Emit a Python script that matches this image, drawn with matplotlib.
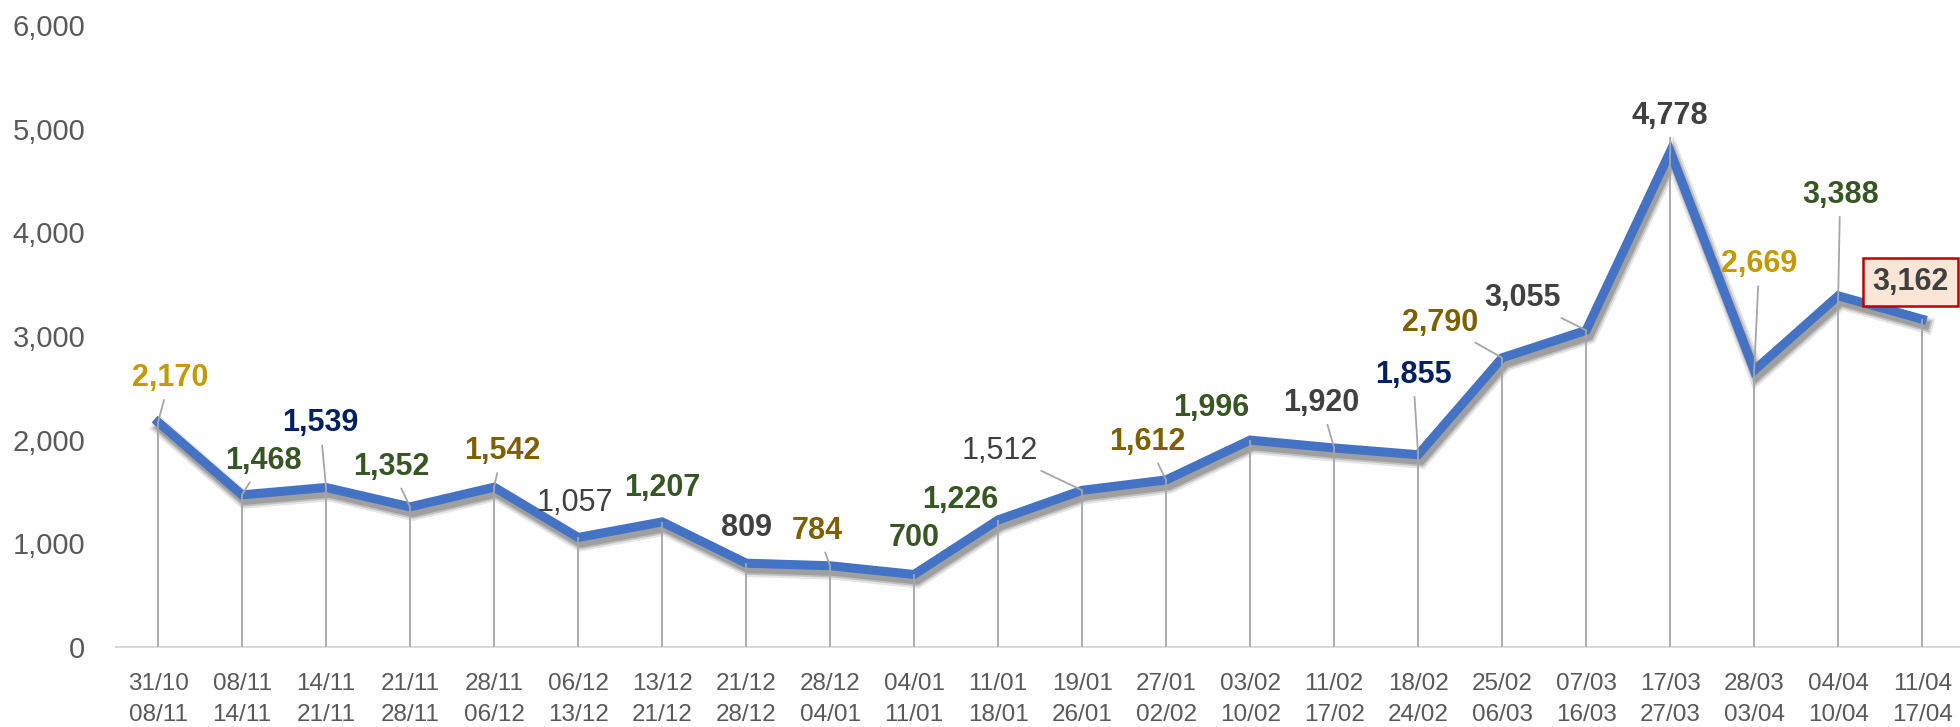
import matplotlib
matplotlib.use('Agg')
import matplotlib.pyplot as plt
import matplotlib.patheffects as pe
from matplotlib.ticker import FuncFormatter, FixedLocator

plt.rcParams['font.family'] = ['Liberation Sans', 'DejaVu Sans']

# weekly periods
week_start = ['31/10', '08/11', '14/11', '21/11', '28/11', '06/12', '13/12', '21/12',
              '28/12', '04/01', '11/01', '19/01', '27/01', '03/02', '11/02', '18/02',
              '25/02', '07/03', '17/03', '28/03', '04/04', '11/04']
week_end = ['08/11', '14/11', '21/11', '28/11', '06/12', '13/12', '21/12', '28/12',
            '04/01', '11/01', '18/01', '26/01', '02/02', '10/02', '17/02', '24/02',
            '06/03', '16/03', '27/03', '03/04', '10/04', '17/04']
values = [2170, 1468, 1539, 1352, 1542, 1057, 1207, 809, 784, 700, 1226,
          1512, 1612, 1996, 1920, 1855, 2790, 3055, 4778, 2669, 3388, 3162]

# label look: colour, bold, leader line, offset (pixels) of label centre from point
GOLD, OLIVE, GREEN, NAVY, GREY = '#C59A00', '#7F6000', '#375623', '#002060', '#404040'
label_colors = [GOLD, GREEN, NAVY, GREEN, OLIVE, GREY, GREEN, GREY, OLIVE, GREEN, GREEN,
                GREY, OLIVE, GREEN, GREY, NAVY, OLIVE, GREY, GREY, GOLD, GREEN, GREY]
label_bold = [True, True, True, True, True, False, True, True, True, True, True,
              False, True, True, True, True, True, True, True, True, True, True]
leader = [True, True, True, True, True, False, False, False, True, False, False,
          True, True, False, True, True, True, True, True, True, True, False]
offsets = [(12, 44), (21, 34), (-6, 64), (-19, 40), (8, 36), (-3, 34), (0, 34),
           (0, 35), (-13, 35), (0, 36), (-38, 20), (-82, 39), (-19, 38), (-39, 32),
           (-13, 45), (-5, 80), (-62, 35), (-64, 32), (0, 36), (5, 106), (2, 101), (-12, 37)]

x = list(range(len(values)))

fig = plt.figure(figsize=(19.6, 7.27), dpi=100)
ax = fig.add_axes([0.0592, 0.110, 0.9408, 0.8556])

ax.vlines(x, 0, values, color='#A6A6A6', lw=1.3, zorder=3)
ax.plot(x, values, color='#4472C4', lw=6.5, solid_joinstyle='miter', zorder=2,
        path_effects=[pe.SimpleLineShadow(offset=(2, -4), shadow_color='#7F7F7F', alpha=0.2, linewidth=12),
                      pe.SimpleLineShadow(offset=(2, -4), shadow_color='#7F7F7F', alpha=0.35, linewidth=9),
                      pe.SimpleLineShadow(offset=(2, -4), shadow_color='#7F7F7F', alpha=0.5),
                      pe.Normal()])

for i, v in enumerate(values):
    dx, dy = offsets[i]
    kw = {}
    if leader[i]:
        kw['arrowprops'] = dict(arrowstyle='-', color='#A6A6A6', lw=1.3, shrinkA=3, shrinkB=0)
    if i == len(values) - 1:
        kw['bbox'] = dict(boxstyle='square,pad=0.3', fc='#FBE5D6', ec='#C00000', lw=1.8)
    ax.annotate(f'{v:,}', (i, v), xytext=(dx, dy), textcoords='offset pixels',
                ha='center', va='center', fontsize=22, color=label_colors[i],
                fontweight='bold' if label_bold[i] else 'normal',
                annotation_clip=False, zorder=5, **kw)

ax.set_xlim(-0.5, 21.45)
ax.set_ylim(0, 6000)
ax.yaxis.set_major_locator(FixedLocator(range(0, 6001, 1000)))
ax.yaxis.set_major_formatter(FuncFormatter(lambda y, p: f'{int(y):,}'))
ax.set_xticks(x)
ax.set_xticklabels([f'{a}\n{b}' for a, b in zip(week_start, week_end)], linespacing=1.5)
ax.tick_params(axis='y', length=0, pad=22, labelsize=21, labelcolor='#595959')
ax.tick_params(axis='x', length=0, pad=19, labelsize=17.5, labelcolor='#595959')

for s in ['top', 'right', 'left']:
    ax.spines[s].set_visible(False)
ax.spines['bottom'].set_color('#D9D9D9')
ax.spines['bottom'].set_linewidth(1.5)

fig.savefig('out.png', dpi=100)
